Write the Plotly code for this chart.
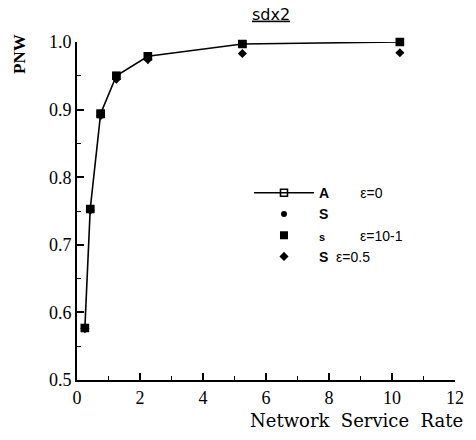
import plotly.graph_objects as go

# Network service rate values and PNW results for each epsilon setting
service_rate = [0.25, 0.42, 0.75, 1.25, 2.25, 5.25, 10.25]
pnw_eps0 = [0.577, 0.753, 0.894, 0.950, 0.979, 0.997, 1.000]
pnw_s = [0.577, 0.752, 0.893, 0.949, 0.978, 0.996, 0.999]
pnw_eps01 = [0.577, 0.753, 0.893, 0.950, 0.979, 0.997, 1.000]
pnw_eps05 = [0.576, 0.751, 0.891, 0.945, 0.974, 0.983, 0.984]

x_ticks = [0, 2, 4, 6, 8, 10, 12]
y_ticks = [0.5, 0.6, 0.7, 0.8, 0.9, 1.0]
y_tick_text = ["0.5", "0.6", "0.7", "0.8", "0.9", "1.0"]

NB = "\u00a0"
serif = "Liberation Serif"

fig = go.Figure()

fig.add_trace(go.Scatter(
    x=service_rate, y=pnw_eps0, mode="lines+markers",
    name=f"<b>A</b>{NB*8}ε=0",
    line=dict(color="black", width=1.6),
    marker=dict(symbol="square-open", size=7, color="black", line=dict(width=1.6)),
    cliponaxis=False,
))
fig.add_trace(go.Scatter(
    x=service_rate, y=pnw_s, mode="markers",
    name="<b>S</b>",
    marker=dict(symbol="circle", size=6, color="black"),
    cliponaxis=False,
))
fig.add_trace(go.Scatter(
    x=service_rate, y=pnw_eps01, mode="markers",
    name=f"<b><span style='font-size:11px'>s</span></b>{NB*9}ε=10-1",
    marker=dict(symbol="square", size=8, color="black"),
    cliponaxis=False,
))
fig.add_trace(go.Scatter(
    x=service_rate, y=pnw_eps05, mode="markers",
    name=f"<b>S</b>{NB*2}ε=0.5",
    marker=dict(symbol="diamond", size=7, color="black"),
    cliponaxis=False,
))

fig.update_layout(
    width=476, height=440,
    margin=dict(l=77, r=15, t=42, b=60),
    paper_bgcolor="white", plot_bgcolor="white",
    font=dict(family=serif, size=17, color="black"),
    showlegend=True,
    legend=dict(
        x=0.455, y=0.6, xanchor="left", yanchor="top",
        traceorder="normal",
        font=dict(family="Liberation Sans", size=14, color="black"),
        bgcolor="rgba(0,0,0,0)",
        itemwidth=60,
        tracegroupgap=4,
    ),
    title=dict(
        text="<u>sdx2</u>", x=271 / 476, xanchor="center",
        y=1 - 14 / 440, yanchor="middle",
        font=dict(family="DejaVu Sans", size=16, color="black"),
    ),
    xaxis=dict(
        range=[0, 12], tickvals=x_ticks, ticktext=[str(v) for v in x_ticks],
        showgrid=False, zeroline=False,
        showline=True, linecolor="black", linewidth=2,
        ticks="inside", ticklen=7, tickwidth=1.5, tickcolor="black",
        minor=dict(dtick=1, ticks="inside", ticklen=4, tickwidth=1.2, tickcolor="black"),
        tickfont=dict(family=serif, size=18),
    ),
    yaxis=dict(
        range=[0.5, 1.0], tickvals=y_ticks, ticktext=y_tick_text,
        showgrid=False, zeroline=False,
        showline=True, linecolor="black", linewidth=2,
        ticks="inside", ticklen=7, tickwidth=1.5, tickcolor="black",
        minor=dict(dtick=0.05, ticks="inside", ticklen=4, tickwidth=1.2, tickcolor="black"),
        tickfont=dict(family=serif, size=18),
    ),
    annotations=[
        # Rotated y-axis label placed at the top of the axis
        dict(
            text="<b>PNW</b>", xref="paper", yref="paper",
            x=-59 / 384, y=1.0 + 10 / 338, xanchor="center", yanchor="top",
            textangle=-90, showarrow=False,
            font=dict(family=serif, size=17, color="black"),
        ),
        # x-axis label aligned to the right end of the axis
        dict(
            text=f"Network{NB*2}Service{NB*2}Rate", xref="paper", yref="paper",
            x=(471 - 77) / 384, y=-40 / 338, xanchor="right", yanchor="middle",
            showarrow=False,
            font=dict(family="DejaVu Serif", size=18, color="black"),
        ),
    ],
)

fig.write_html("out.html")
